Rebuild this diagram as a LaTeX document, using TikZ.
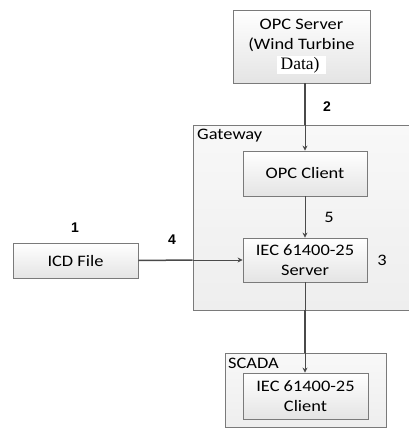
\documentclass[tikz,border=0pt]{standalone}
\usepackage{fontspec}
\setmainfont{Carlito}[FakeStretch=1.15]
\newfontfamily\serifdata{Liberation Serif}
\newfontfamily\arialfont{Liberation Sans}
\usetikzlibrary{arrows.meta,shadows}
\definecolor{boxborder}{HTML}{7A7A7A}
\definecolor{linecol}{HTML}{4A4A4A}
\definecolor{boxbot}{HTML}{E4E4E4}
\definecolor{gwtop}{HTML}{F8F8F8}
\definecolor{gwbot}{HTML}{EEEEEE}
\tikzset{
  txt/.style={font=\fontsize{16}{20}\selectfont},
  block/.style={draw=boxborder, line width=0.8pt, top color=white, bottom color=boxbot,
    align=center, txt, inner sep=0pt,
    drop shadow={shadow xshift=0.8pt, shadow yshift=-0.8pt, opacity=0.35, fill=black}},
  group/.style={draw=boxborder, line width=0.8pt, top color=gwtop, bottom color=gwbot,
    drop shadow={shadow xshift=0.8pt, shadow yshift=-0.8pt, opacity=0.35, fill=black}},
  num/.style={font=\arialfont\bfseries\fontsize{14}{14}\selectfont, inner sep=0pt},
  numr/.style={font=\fontsize{16}{16}\selectfont, inner sep=0pt},
  thickln/.style={draw=linecol, line width=1.5pt},
  thinln/.style={draw=linecol, line width=0.8pt},
  arr/.style={thinln, -{Stealth[length=5pt,width=5pt]}},
}
\begin{document}
\begin{tikzpicture}[x=1pt,y=-1pt]
\useasboundingbox (0,0) rectangle (409,428);
% group boxes
\node[group, minimum width=218pt, minimum height=185pt] (gw) at (302,217.5) {};
\node[anchor=west, txt, inner sep=0pt] (gwlabel) at (197,136) {Gateway};
\node[group, minimum width=161pt, minimum height=74pt] (scada) at (305.5,390) {};
\node[anchor=west, txt, inner sep=0pt] (scadalabel) at (228,363) {SCADA};
% blocks
\node[block, minimum width=137pt, minimum height=73pt] (opcs) at (301.5,46.5)
  {OPC Server\\(Wind Turbine\\{\fboxsep=1pt\colorbox{white}{\serifdata\fontsize{17.5}{18}\selectfont\,Data)\,\,}}};
\node[block, minimum width=124pt, minimum height=45pt] (opcc) at (305,173.5) {OPC Client};
\node[block, minimum width=124pt, minimum height=44pt] (srv) at (305,260) {IEC 61400-25\\Server};
\node[block, minimum width=125pt, minimum height=35pt] (icd) at (75.5,260.5) {ICD File};
\node[block, minimum width=125pt, minimum height=46pt] (cli) at (305.5,396) {IEC 61400-25\\Client};
% connectors
\coordinate (gwtopx) at (gw.north -| opcc.north);
\draw[thickln] (opcs.south -| opcc.north) -- (gwtopx);
\draw[arr] (gwtopx) -- (opcc.north);
\draw[arr] (opcc.south) -- (srv.north);
\coordinate (gwleft) at (gw.west |- srv.west);
\draw[thickln] (icd.east) -- (gwleft);
\draw[arr] (gwleft) -- (srv.west);
\coordinate (gwbottomx) at (gw.south -| srv.south);
\coordinate (scadatopx) at (scada.north -| srv.south);
\draw[thinln] (srv.south) -- (gwbottomx);
\draw[thickln] (gwbottomx) -- (scadatopx);
\draw[arr] (scadatopx) -- (cli.north -| srv.south);
% labels
\node[num] (n1) at (75,228) {1};
\node[num] (n2) at (327,107) {2};
\node[num] (n4) at (172,239.5) {4};
\node[numr] (n5) at (329,217.5) {5};
\node[numr] (n3) at (382,260) {3};
\end{tikzpicture}
\end{document}
